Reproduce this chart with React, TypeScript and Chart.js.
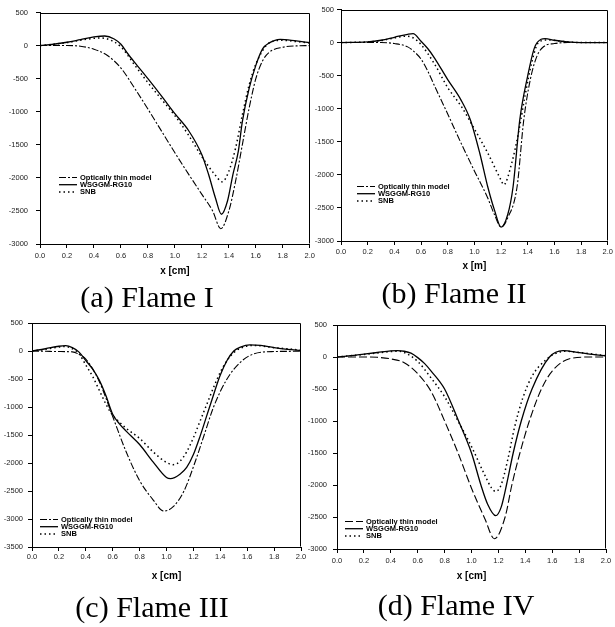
import React, { useEffect, useRef } from "react";
import { Chart, registerables } from "chart.js";

Chart.register(...registerables);

const SERIES_LABELS = ["Optically thin model", "WSGGM-RG10", "SNB"];
const CAPTIONS = ["(a) Flame I", "(b) Flame II", "(c) Flame III", "(d) Flame IV"];
const X_TITLES = ["x [cm]", "x [m]", "x [cm]", "x [cm]"];
const Y_MIN = [-3000, -3000, -3500, -3000];
const Y_MAX = 500;
const Y_STEP = 500;
const X_MIN = 0;
const X_MAX = 2;
const X_STEP = 0.2;

// ---------- (a) Flame I ----------
const thinAx = [0, 0.2, 0.3, 0.4, 0.5, 0.6, 0.7, 0.8, 0.9, 1.0, 1.1, 1.2, 1.28, 1.34, 1.4, 1.45, 1.5, 1.55, 1.6, 1.65, 1.7, 1.8, 1.9, 2.0];
const thinAy = [0, 0, -10, -55, -150, -340, -640, -960, -1290, -1620, -1940, -2250, -2500, -2770, -2500, -2050, -1500, -950, -500, -230, -100, -25, -5, 0];
const wsgAx = [0, 0.1, 0.2, 0.3, 0.4, 0.48, 0.55, 0.6, 0.65, 0.7, 0.8, 0.9, 1.0, 1.1, 1.2, 1.25, 1.3, 1.345, 1.39, 1.43, 1.47, 1.5, 1.55, 1.6, 1.65, 1.7, 1.78, 1.9, 2.0];
const wsgAy = [0, 20, 50, 90, 130, 145, 100, 20, -120, -250, -500, -760, -1030, -1280, -1650, -1950, -2300, -2550, -2350, -1950, -1600, -1150, -650, -300, -50, 40, 95, 70, 45];
const snbAx = [0, 0.1, 0.2, 0.3, 0.4, 0.45, 0.5, 0.6, 0.7, 0.8, 0.9, 1.0, 1.1, 1.2, 1.3, 1.35, 1.4, 1.45, 1.5, 1.55, 1.6, 1.7, 1.8, 1.9, 2.0];
const snbAy = [0, 20, 45, 80, 110, 115, 100, -20, -290, -560, -810, -1060, -1350, -1680, -1960, -2060, -1900, -1550, -1050, -600, -280, 40, 80, 60, 40];

// ---------- (b) Flame II ----------
const thinBx = [0, 0.3, 0.4, 0.5, 0.55, 0.6, 0.65, 0.7, 0.8, 0.9, 1.0, 1.1, 1.15, 1.2, 1.25, 1.32, 1.37, 1.42, 1.47, 1.52, 1.6, 1.7, 2.0];
const thinBy = [0, 0, -15, -65, -140, -250, -430, -650, -1080, -1520, -1940, -2350, -2600, -2790, -2650, -2180, -1170, -550, -200, -60, -15, 0, 0];
const wsgBx = [0, 0.2, 0.3, 0.4, 0.5, 0.54, 0.6, 0.65, 0.7, 0.8, 0.9, 0.97, 1.04, 1.1, 1.15, 1.2, 1.25, 1.29, 1.34, 1.4, 1.45, 1.5, 1.53, 1.6, 1.7, 1.8, 2.0];
const wsgBy = [0, 10, 35, 80, 125, 135, 20, -90, -230, -560, -870, -1170, -1670, -2180, -2530, -2790, -2600, -2180, -1170, -500, -80, 50, 60, 35, 10, 0, 0];
const snbBx = [0, 0.2, 0.3, 0.4, 0.49, 0.55, 0.6, 0.7, 0.8, 0.9, 0.99, 1.1, 1.2, 1.22, 1.28, 1.33, 1.38, 1.43, 1.48, 1.55, 1.65, 1.8, 2.0];
const snbBy = [0, 10, 30, 70, 96, 60, -30, -320, -680, -960, -1270, -1670, -2080, -2150, -1820, -1370, -800, -300, 0, 40, 20, 0, 0];

// ---------- (c) Flame III ----------
const thinCx = [0, 0.1, 0.2, 0.3, 0.35, 0.4, 0.5, 0.6, 0.7, 0.8, 0.9, 0.98, 1.05, 1.13, 1.21, 1.28, 1.35, 1.45, 1.55, 1.65, 1.8, 2.0];
const thinCy = [0, -5, -10, -15, -60, -143, -543, -1171, -1800, -2314, -2657, -2857, -2780, -2500, -2000, -1500, -1000, -500, -200, -50, -10, -5];
const wsgCx = [0, 0.1, 0.2, 0.25, 0.3, 0.35, 0.4, 0.45, 0.5, 0.55, 0.6, 0.65, 0.7, 0.8, 0.9, 1.0, 1.03, 1.1, 1.15, 1.2, 1.25, 1.3, 1.35, 1.4, 1.45, 1.5, 1.55, 1.62, 1.7, 1.8, 1.9, 2.0];
const wsgCy = [0, 40, 85, 95, 60, -20, -170, -320, -520, -800, -1130, -1300, -1430, -1670, -1980, -2260, -2280, -2200, -2080, -1850, -1520, -1150, -780, -430, -170, 0, 70, 110, 100, 60, 30, 10];
const snbCx = [0, 0.1, 0.2, 0.25, 0.3, 0.35, 0.4, 0.45, 0.5, 0.55, 0.6, 0.65, 0.7, 0.8, 0.9, 1.0, 1.05, 1.1, 1.15, 1.2, 1.25, 1.3, 1.35, 1.4, 1.45, 1.5, 1.55, 1.65, 1.8, 1.9, 2.0];
const snbCy = [0, 30, 70, 80, 40, -50, -250, -450, -700, -950, -1150, -1270, -1380, -1560, -1800, -1990, -2030, -1970, -1800, -1550, -1250, -950, -650, -380, -170, -30, 50, 100, 60, 40, 15];

// ---------- (d) Flame IV ----------
const thinDx = [0, 0.2, 0.3, 0.4, 0.5, 0.6, 0.7, 0.8, 0.9, 1.0, 1.1, 1.17, 1.25, 1.3, 1.36, 1.43, 1.52, 1.6, 1.74, 1.9, 2.0];
const thinDy = [0, 0, -5, -30, -90, -260, -540, -1000, -1500, -2050, -2530, -2840, -2500, -2000, -1500, -1000, -500, -220, -20, 0, 0];
const wsgDx = [0, 0.1, 0.2, 0.3, 0.4, 0.45, 0.5, 0.55, 0.6, 0.65, 0.7, 0.8, 0.9, 1.0, 1.07, 1.12, 1.18, 1.22, 1.26, 1.31, 1.37, 1.45, 1.58, 1.68, 1.8, 1.9, 2.0];
const wsgDy = [0, 20, 45, 70, 95, 100, 90, 60, -10, -100, -220, -500, -980, -1500, -2000, -2300, -2480, -2350, -2000, -1500, -1000, -500, 0, 100, 70, 40, 20];
const snbDx = [0, 0.2, 0.4, 0.45, 0.5, 0.6, 0.7, 0.8, 0.9, 1.0, 1.1, 1.15, 1.18, 1.22, 1.27, 1.32, 1.38, 1.45, 1.55, 1.62, 1.7, 1.8, 2.0];
const snbDy = [0, 40, 85, 90, 70, -70, -330, -620, -1000, -1400, -1850, -2050, -2100, -2000, -1600, -1100, -650, -300, -50, 50, 90, 70, 20];

const toPts = (xs: number[], ys: number[]) => xs.map((x, i) => ({ x, y: ys[i] }));

type PanelCfg = {
  left: number; top: number; w: number; h: number;
  yW: number; xH: number;
  pad: { left: number; right: number; top: number; bottom: number };
  titlePadB: number; yTickPad: number; xTickPad: number;
  legendFx: number; legendFy: number;
  thinDash: number[];
  caption: string; capX: number; capY: number;
  xTitle: string; yMin: number;
  series: { xs: number[]; ys: number[] }[];
};

const PANELS: PanelCfg[] = [
  {
    left: 0, top: 0, w: 318, h: 285, yW: 40, xH: 41,
    pad: { left: 0, right: 7, top: 10.5, bottom: 0 },
    titlePadB: 7.5, yTickPad: 8, xTickPad: 3, legendFx: 0.07, legendFy: 0.709,
    thinDash: [7, 2, 2, 2], caption: CAPTIONS[0], capX: 147, capY: 297,
    xTitle: X_TITLES[0], yMin: Y_MIN[0],
    series: [{ xs: thinAx, ys: thinAy }, { xs: wsgAx, ys: wsgAy }, { xs: snbAx, ys: snbAy }],
  },
  {
    left: 305, top: 0, w: 310, h: 285, yW: 36, xH: 44,
    pad: { left: 0, right: 7, top: 9.5, bottom: 0 },
    titlePadB: 12.3, yTickPad: 3, xTickPad: 2, legendFx: 0.06, legendFy: 0.762,
    thinDash: [7, 2, 2, 2], caption: CAPTIONS[1], capX: 454, capY: 293,
    xTitle: X_TITLES[1], yMin: Y_MIN[1],
    series: [{ xs: thinBx, ys: thinBy }, { xs: wsgBx, ys: wsgBy }, { xs: snbBx, ys: snbBy }],
  },
  {
    left: 0, top: 310, w: 318, h: 275, yW: 32, xH: 38,
    pad: { left: 0, right: 17, top: 13, bottom: 0 },
    titlePadB: 2.3, yTickPad: 5, xTickPad: 1, legendFx: 0.03, legendFy: 0.875,
    thinDash: [7, 2, 2, 2], caption: CAPTIONS[2], capX: 152, capY: 607,
    xTitle: X_TITLES[2], yMin: Y_MIN[2],
    series: [{ xs: thinCx, ys: thinCy }, { xs: wsgCx, ys: wsgCy }, { xs: snbCx, ys: snbCy }],
  },
  {
    left: 305, top: 310, w: 310, h: 275, yW: 32, xH: 36,
    pad: { left: 0, right: 9, top: 15, bottom: 0 },
    titlePadB: 2.3, yTickPad: 6, xTickPad: 3, legendFx: 0.03, legendFy: 0.875,
    thinDash: [8, 3], caption: CAPTIONS[3], capX: 456, capY: 605,
    xTitle: X_TITLES[3], yMin: Y_MIN[3],
    series: [{ xs: thinDx, ys: thinDy }, { xs: wsgDx, ys: wsgDy }, { xs: snbDx, ys: snbDy }],
  },
];

const SANS = '"Liberation Sans", Arial, sans-serif';

const legendPlugin = {
  id: "inlineLegend",
  afterDatasetsDraw(chart: any, _args: any, opts: any) {
    const { ctx, chartArea: a } = chart;
    const x0 = Math.round(a.left + opts.fx * (a.right - a.left));
    let y = Math.round(a.top + opts.fy * (a.bottom - a.top)) + 0.5;
    ctx.save();
    ctx.font = `bold 7.5px ${SANS}`;
    ctx.textBaseline = "middle";
    chart.data.datasets.forEach((ds: any) => {
      ctx.strokeStyle = "#000";
      ctx.lineWidth = ds.borderWidth;
      ctx.setLineDash(ds.borderDash || []);
      ctx.beginPath();
      ctx.moveTo(x0, y);
      ctx.lineTo(x0 + 18, y);
      ctx.stroke();
      ctx.setLineDash([]);
      ctx.fillStyle = "#000";
      ctx.fillText(ds.label, x0 + 21, y);
      y += 7.2;
    });
    ctx.restore();
  },
};

const framePlugin = {
  id: "frame",
  afterDraw(chart: any) {
    const { ctx, chartArea: a } = chart;
    const l = Math.round(a.left) + 0.5;
    const r = Math.round(a.right) - 0.5;
    const t = Math.round(a.top) + 0.5;
    const b = Math.round(a.bottom) - 0.5;
    ctx.save();
    ctx.strokeStyle = "#000";
    ctx.lineWidth = 1;
    ctx.beginPath();
    ctx.moveTo(l, t);
    ctx.lineTo(r, t);
    ctx.lineTo(r, b);
    ctx.stroke();
    ctx.restore();
  },
};

function Panel({ cfg }: { cfg: PanelCfg }) {
  const ref = useRef<HTMLCanvasElement | null>(null);
  useEffect(() => {
    if (!ref.current) return;
    const styles = [
      { borderDash: cfg.thinDash, borderWidth: 1.1 },
      { borderDash: [], borderWidth: 1.3 },
      { borderDash: [1.5, 3], borderWidth: 1.5 },
    ];
    const chart = new Chart(ref.current, {
      type: "line",
      data: {
        datasets: cfg.series.map((s, i) => ({
          label: SERIES_LABELS[i],
          data: toPts(s.xs, s.ys),
          borderColor: "#000",
          backgroundColor: "#000",
          borderWidth: styles[i].borderWidth,
          borderDash: styles[i].borderDash,
          pointRadius: 0,
          fill: false,
          cubicInterpolationMode: "monotone",
        })),
      },
      options: {
        animation: false,
        responsive: false,
        layout: { padding: cfg.pad },
        plugins: {
          legend: { display: false },
          tooltip: { enabled: false },
          inlineLegend: { fx: cfg.legendFx, fy: cfg.legendFy },
        } as any,
        scales: {
          x: {
            type: "linear",
            min: X_MIN,
            max: X_MAX,
            afterFit: (s: any) => { s.height = cfg.xH; },
            ticks: {
              stepSize: X_STEP,
              padding: cfg.xTickPad,
              color: "#222",
              font: { family: SANS, size: 7.5 },
              maxRotation: 0,
              autoSkip: false,
              callback: (v: any) => Number(v).toFixed(1),
            },
            grid: { drawOnChartArea: false, drawTicks: true, tickLength: 4, color: "#000" },
            border: { display: true, color: "#000", width: 1 },
            title: {
              display: true,
              text: cfg.xTitle,
              color: "#000",
              font: { family: SANS, size: 10, weight: "bold" },
              padding: { top: 0, bottom: cfg.titlePadB },
            },
          },
          y: {
            type: "linear",
            min: cfg.yMin,
            max: Y_MAX,
            afterFit: (s: any) => { s.width = cfg.yW; },
            ticks: {
              stepSize: Y_STEP,
              padding: cfg.yTickPad,
              color: "#222",
              font: { family: SANS, size: 7.5 },
              callback: (v: any) => String(v),
            },
            grid: { drawOnChartArea: false, drawTicks: true, tickLength: 4, color: "#000" },
            border: { display: true, color: "#000", width: 1 },
          },
        },
      } as any,
      plugins: [legendPlugin, framePlugin],
    });
    return () => chart.destroy();
  }, []);
  return (
    <>
      <canvas
        ref={ref}
        width={cfg.w}
        height={cfg.h}
        style={{ position: "absolute", left: cfg.left, top: cfg.top, width: cfg.w, height: cfg.h }}
      />
      <div
        style={{
          position: "absolute",
          left: cfg.capX,
          top: cfg.capY,
          transform: "translate(-50%, -50%)",
          fontFamily: '"Liberation Serif", "Times New Roman", serif',
          fontSize: 30,
          lineHeight: 1,
          whiteSpace: "nowrap",
          color: "#000",
        }}
      >
        {cfg.caption}
      </div>
    </>
  );
}

export default function App() {
  return (
    <div style={{ position: "absolute", left: 0, top: 0, width: 615, height: 627, background: "#fff", overflow: "hidden" }}>
      {PANELS.map((p, i) => (
        <Panel key={i} cfg={p} />
      ))}
    </div>
  );
}
